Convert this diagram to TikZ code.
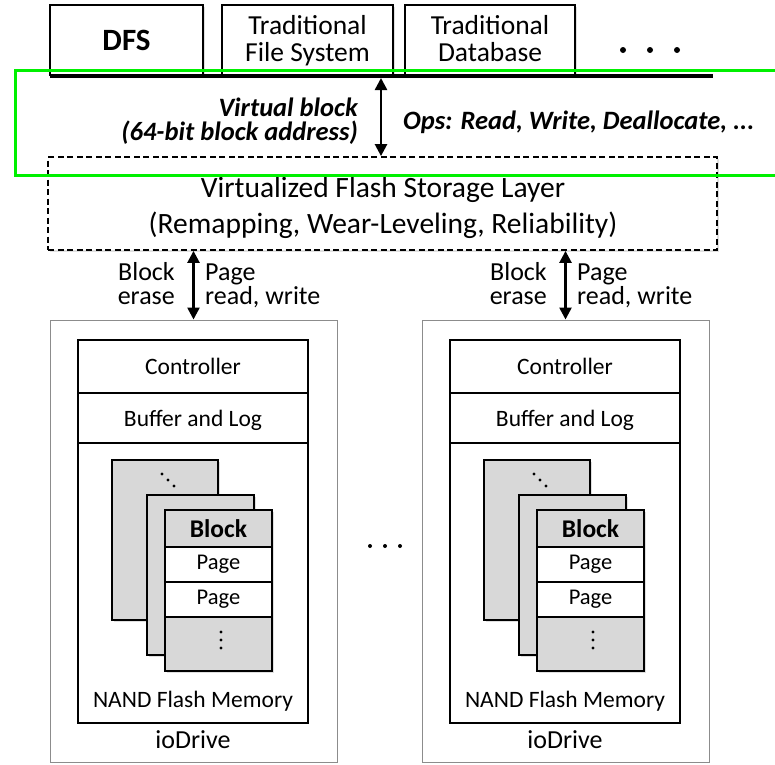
\documentclass[tikz,border=0pt]{standalone}
\usepackage{fontspec}
\setmainfont{Carlito}
\usetikzlibrary{arrows.meta,shadows}
\definecolor{cellgray}{RGB}{216,216,216}
\definecolor{framegray}{RGB}{140,140,140}
\definecolor{hlgreen}{RGB}{0,240,0}
\tikzset{
  shad/.style={drop shadow={opacity=0.25,shadow xshift=2pt,shadow yshift=-2pt}},
  appbox/.style={draw=black,line width=2pt,fill=white,shad,inner sep=0pt},
  apptxt/.style={inner sep=0pt,anchor=base,font=\fontsize{27.5}{24}\selectfont},
  dbl/.style={{Triangle[width=12pt,length=12pt]}-{Triangle[width=12pt,length=12pt]},line width=2.5pt},
  lbl/.style={inner sep=0pt,font=\fontsize{26}{23.5}\selectfont},
  bilbl/.style={inner sep=0pt,font=\fontsize{26.5}{24}\selectfont\bfseries\itshape},
  drivebox/.style={draw=framegray,line width=1pt,fill=white,inner sep=0pt},
  rowbox/.style={draw=black,line width=2pt,fill=white,inner sep=0pt,text height=16.5pt,text depth=0pt,font=\fontsize{23.5}{23.5}\selectfont},
  stack/.style={draw=black,line width=2pt,fill=cellgray,shad},
  cell/.style={draw=black,line width=1.5pt,inner sep=0pt,minimum width=107pt,font=\fontsize{22.5}{22.5}\selectfont},
}
\begin{document}
\begin{tikzpicture}[x=1pt,y=-1pt]
\useasboundingbox (0,0) rectangle (775,764);
% application boxes
\node[appbox,minimum width=153pt,minimum height=70pt,font=\fontsize{31}{24}\selectfont\bfseries] (dfs) at (126.5,40) {DFS};
\node[appbox,minimum width=171pt,minimum height=70pt] (tfs) at (307.5,40) {};
\node[apptxt] (tfs1) at (307.5,34) {Traditional};
\node[apptxt] (tfs2) at (307.5,61) {File System};
\node[appbox,minimum width=170pt,minimum height=70pt] (tdb) at (490,40) {};
\node[apptxt] (tdb1) at (490,34) {Traditional};
\node[apptxt] (tdb2) at (490,61) {Database};
\foreach \xx [count=\i] in {623,650,677} \fill (\xx,50) circle (3pt);
\coordinate (busl) at (50,76);
\coordinate (busr) at (713,76);
\draw[line width=4.5pt,shad] (busl) -- (busr);
% virtualized layer
\node[draw=black,dash pattern=on 6pt off 3.5pt,line width=1.8pt,fill=white,shad,minimum width=669pt,minimum height=93pt,inner sep=0pt] (vl) at (382.5,203.5) {};
\node[lbl,anchor=base,font=\fontsize{29.5}{29.5}\selectfont] (vl1) at (383,197) {Virtualized Flash Storage Layer};
\node[lbl,anchor=base,font=\fontsize{29.5}{29.5}\selectfont] (vl2) at (383,233) {(Remapping, Wear-Leveling, Reliability)};
\coordinate (va) at (381,78);
\draw[dbl] (va) -- (va |- vl.north);
\node[bilbl,anchor=base east] (vb1) at (358,116) {Virtual block};
\node[bilbl,anchor=base east] (vb2) at (358,140) {(64-bit block address)};
\node[bilbl,anchor=base west] (ops) at (403,129) {Ops: Read, Write, Deallocate, ...};
% drives
\foreach \dx/\n in {0/a,372/b}{
  \begin{scope}[xshift=\dx]
  \node[drivebox,minimum width=287pt,minimum height=442pt] (io\n) at (193.5,541) {};
  \node[rowbox,minimum width=230pt,minimum height=383pt] (nand\n) at (193,531.5) {};
  \node[rowbox,minimum width=230pt,minimum height=53pt] (ctl\n) at (193,366.5) {Controller};
  \node[rowbox,minimum width=230pt,minimum height=50pt] (buf\n) at (193,418) {Buffer and Log};
  \node[lbl,anchor=base,font=\fontsize{23.5}{23.5}\selectfont] (nm\n) at (193,707) {NAND Flash Memory};
  \node[lbl,anchor=base] (iod\n) at (193,748) {ioDrive};
  \draw[stack] (112,460) rectangle (218,620);
  \draw[stack] (147,495) rectangle (254,655);
  \draw[stack] (165,510) rectangle (272,671);
  \node[cell,fill=cellgray,minimum height=37pt,font=\fontsize{25.5}{25.5}\selectfont\bfseries] (blk\n) at (218.5,528.5) {Block};
  \node[cell,fill=white,minimum height=35pt] (pg1\n) at (218.5,564.5) {Page};
  \node[cell,fill=white,minimum height=35pt] (pg2\n) at (218.5,599.5) {Page};
  \draw[line width=2pt] (165,510) rectangle (272,671);
  \foreach \yy in {632,640,648} \fill (221,\yy) circle (1.6pt);
  \foreach \px/\py in {162/474,168/480,174/486} \fill (\px,\py) circle (1.6pt);
  \draw[dbl] (vl.south -| io\n.north) -- (io\n.north);
  \node[lbl,anchor=base east] (be\n) at (175,280) {Block};
  \node[lbl,anchor=base east] (bf\n) at (175,304) {erase};
  \node[lbl,anchor=base west] (pr\n) at (205,280) {Page};
  \node[lbl,anchor=base west] (pw\n) at (205,304) {read, write};
  \end{scope}
}
\foreach \xx in {370,385,400} \fill (\xx,546) circle (2pt);
% highlight
\draw[hlgreen,line width=3pt] (15,70) rectangle (790,175);
\end{tikzpicture}
\end{document}
